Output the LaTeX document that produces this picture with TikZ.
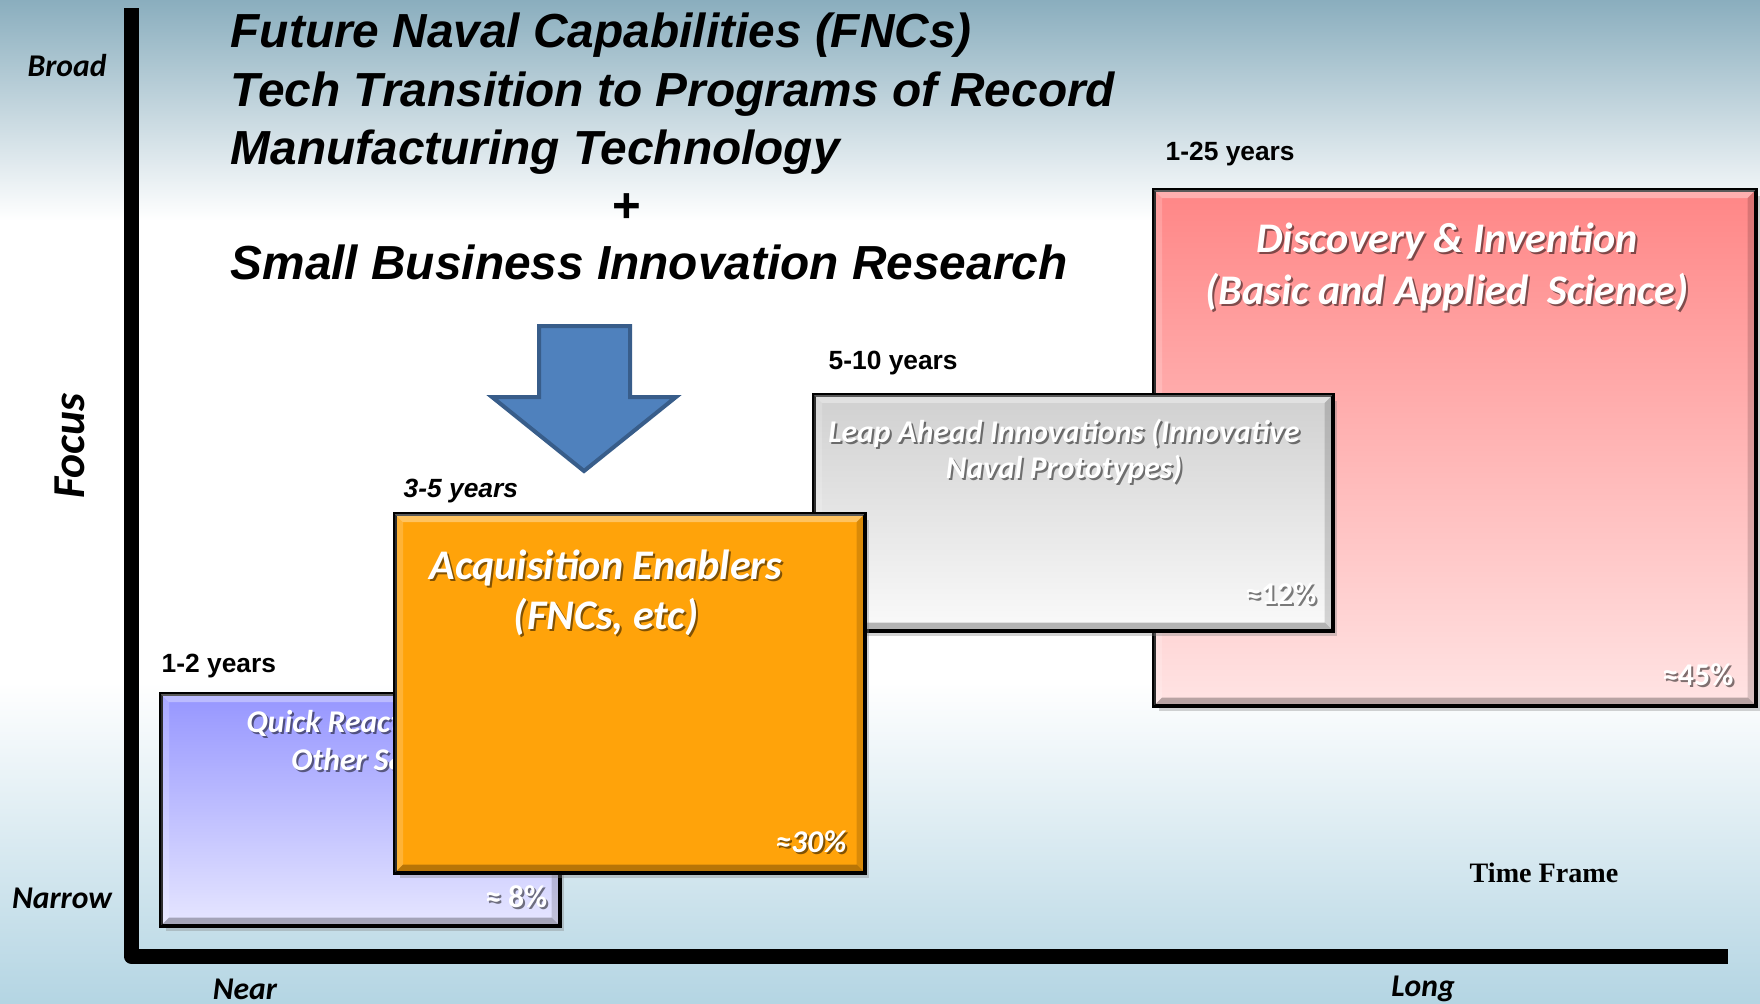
\documentclass[tikz,border=0pt]{standalone}
\usepackage{fontspec}
\setmainfont{Liberation Sans}
\newfontfamily\calib{Carlito}
\newfontfamily\timesrm{Liberation Serif}
\usetikzlibrary{shadows}

\definecolor{bgtop}{RGB}{138,174,190}
\definecolor{bgbot}{RGB}{180,213,227}
\definecolor{pinktop}{RGB}{255,134,134}
\definecolor{pinkbot}{RGB}{255,228,228}
\definecolor{greytop}{RGB}{208,208,208}
\definecolor{greybot}{RGB}{250,250,250}
\definecolor{bluetop}{RGB}{150,150,255}
\definecolor{bluebot}{RGB}{230,230,255}
\definecolor{amber}{RGB}{255,163,10}
\definecolor{arrowblue}{RGB}{79,129,189}
\definecolor{arrowedge}{RGB}{56,93,138}

\pgfdeclareverticalshading{slidebg}{100bp}{color(0bp)=(bgbot); color(25bp)=(bgbot); color(41bp)=(white); color(64bp)=(white); color(75bp)=(bgtop); color(100bp)=(bgtop)}

\tikzset{
  panel/.style={draw=black, line width=0.25mm, anchor=north west, inner sep=0,
    drop shadow={shadow xshift=0.5mm, shadow yshift=-0.6mm, opacity=.35}},
  headline/.style={anchor=base west, inner sep=0, font=\fontsize{13.6}{16}\selectfont\bfseries\itshape},
  yearlbl/.style={anchor=base west, inner sep=0, font=\fontsize{7.5}{9}\selectfont\bfseries},
  axislbl/.style={inner sep=0, font=\calib\fontsize{9}{11}\selectfont\bfseries\itshape},
  bigcap/.style={anchor=base, inner sep=0, text=white, font=\calib\fontsize{12}{14}\selectfont\bfseries\itshape},
  smallcap/.style={anchor=base, inner sep=0, text=white, font=\calib\fontsize{9}{11}\selectfont\bfseries\itshape},
  pct/.style={anchor=base east, inner sep=0, text=white, font=\calib\fontsize{9}{11}\selectfont\bfseries}
}

% bevelled edges of a panel
\newcommand{\bevel}[1]{%
  \fill[white,opacity=.35] (#1.north west) -- (#1.north east) -- ([shift={(-9,9)}]#1.north east) -- ([shift={(9,9)}]#1.north west) -- cycle;
  \fill[white,opacity=.18] (#1.north west) -- (#1.south west) -- ([shift={(9,-9)}]#1.south west) -- ([shift={(9,9)}]#1.north west) -- cycle;
  \fill[black,opacity=.15] (#1.north east) -- (#1.south east) -- ([shift={(-9,-9)}]#1.south east) -- ([shift={(-9,9)}]#1.north east) -- cycle;
  \fill[black,opacity=.28] (#1.south west) -- (#1.south east) -- ([shift={(-9,-9)}]#1.south east) -- ([shift={(9,-9)}]#1.south west) -- cycle;
  \draw[line width=0.25mm] (#1.north west) rectangle (#1.south east);}

% white text with a soft shadow
\newcommand{\glow}[4]{%
  \node[#1, text=black, text opacity=.5, xshift=0.2mm, yshift=-0.2mm] at (#2) {#3};
  \node[#1] (#4) at (#2) {#3};}

\begin{document}
\begin{tikzpicture}[x=0.1mm,y=-0.1mm]
  \useasboundingbox (0,0) rectangle (1760,1003);
  % Background
  \shade[shading=slidebg] (0,0) rectangle (1760,1003);

  % Axes
  \draw[line width=1.5mm, line join=round] (131,8) -- (131,956) -- (1728,956);
  \node[axislbl] (broad) at (67,66) {Broad};
  \node[axislbl] (narrow) at (62,898) {Narrow};
  \node[axislbl, font=\calib\fontsize{13}{15}\selectfont\bfseries\itshape, rotate=90] (focus) at (70,446) {Focus};
  \node[axislbl] (near) at (245,989) {Near};
  \node[axislbl] (long) at (1423,989) {Long};
  \node[inner sep=0, font=\timesrm\fontsize{8}{10}\selectfont\bfseries] (timeframe) at (1544,873) {Time Frame};

  % Title
  \node[headline] (fnc) at (230,47) {Future Naval Capabilities (FNCs)};
  \node[headline] (transition) at (230,106) {Tech Transition to Programs of Record};
  \node[headline] (mantech) at (230,164) {Manufacturing Technology};
  \node[inner sep=0, font=\fontsize{14}{16}\selectfont\bfseries] (plus) at (627,208) {+};
  \node[headline] (sbir) at (230,279) {Small Business Innovation Research};

  % Down arrow
  \filldraw[fill=arrowblue, draw=arrowedge, line width=0.4mm]
    (539,326) -- (630,326) -- (630,397) -- (676,397) -- (584,471) -- (492,397) -- (539,397) -- cycle;

  % Discovery & Invention
  \node[yearlbl] (y25) at (1165,160) {1-25 years};
  \node[panel, top color=pinktop, bottom color=pinkbot, minimum width=60.1mm, minimum height=51.5mm] (discovery) at (1153,189) {};
  \bevel{discovery}
  \glow{bigcap}{1447,252}{Discovery \& Invention}{disc1}
  \glow{bigcap}{1447,304}{(Basic and Applied\ \ Science)}{disc2}
  \glow{pct}{1734,685}{≈45\%}{pctdisc}

  % Leap Ahead Innovations
  \node[yearlbl] (y10) at (828,369) {5-10 years};
  \node[panel, top color=greytop, bottom color=greybot, minimum width=51.8mm, minimum height=23.5mm] (leap) at (813,394) {};
  \bevel{leap}
  \glow{smallcap}{1064,442}{Leap Ahead Innovations (Innovative}{leap1}
  \glow{smallcap}{1064,478}{Naval Prototypes)}{leap2}
  \glow{pct}{1317,604}{≈12\%}{pctleap}

  % Quick Reaction
  \node[yearlbl] (y2) at (161,672) {1-2 years};
  \node[panel, top color=bluetop, bottom color=bluebot, minimum width=39.8mm, minimum height=23.1mm] (quick) at (160,693) {};
  \bevel{quick}
  \glow{smallcap}{359,732}{Quick Reaction \&}{quick1}
  \glow{smallcap}{359,770}{Other S\&T}{quick2}
  \glow{pct}{548,907}{≈ 8\%}{pctquick}

  % Acquisition Enablers
  \node[yearlbl, font=\fontsize{7.5}{9}\selectfont\bfseries\itshape] (y5) at (403,497) {3-5 years};
  \node[panel, fill=amber, minimum width=46.9mm, minimum height=35.8mm] (acq) at (394,513) {};
  \bevel{acq}
  \glow{bigcap}{606,579}{Acquisition Enablers}{acq1}
  \glow{bigcap}{606,629}{(FNCs, etc)}{acq2}
  \glow{pct, font=\calib\fontsize{9}{11}\selectfont\bfseries\itshape}{847,852}{≈30\%}{pctacq}
\end{tikzpicture}
\end{document}
